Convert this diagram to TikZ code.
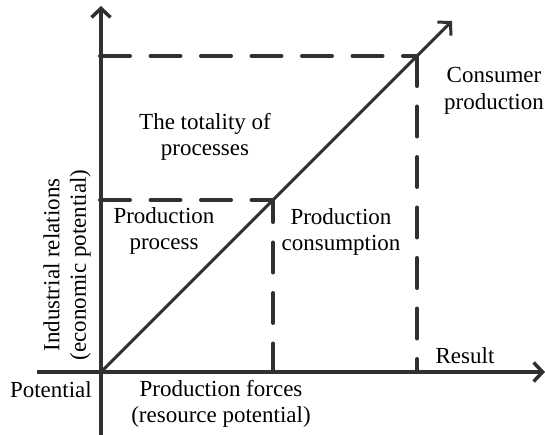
\documentclass[tikz,border=0pt]{standalone}
\usepackage{fontspec}
\setmainfont{Liberation Serif}
\usetikzlibrary{arrows.meta}
\definecolor{ink}{HTML}{303030}
\tikzset{
  axisline/.style={draw=ink,line width=4pt,-{Straight Barb[length=9pt,width=19pt,line width=3.5pt]}},
  plainaxis/.style={draw=ink,line width=4pt},
  diag/.style={draw=ink,line width=3pt,-{Straight Barb[length=9pt,width=19pt,line width=3pt]}},
  dashline/.style={draw=ink,line width=4pt,line cap=round,dash pattern=on 30pt off 20.5pt},
  lbl/.style={font=\fontsize{23}{26.5}\selectfont,text=black,inner sep=0pt,align=center}
}
\begin{document}
\begin{tikzpicture}[x=1pt,y=-1pt]
\useasboundingbox (0,0) rectangle (545,435);
% key points
\coordinate (O) at (101,372);
\coordinate (ytop) at (101,6);
\coordinate (ybot) at (101,435);
\coordinate (xleft) at (37,372);
\coordinate (xright) at (545,372);
\coordinate (c1) at (273,200);
\coordinate (c2) at (417,56);
\coordinate (tip) at (452,21);
\coordinate (h1) at (100,200);
\coordinate (h2) at (100,56);
\coordinate (b1) at (273,372);
\coordinate (b2) at (417,372);
% dashed guides
\draw[dashline] (h2) -- (c2);
\draw[dashline] (c2) -- (b2);
\draw[dashline] (h1) -- (c1);
\draw[dashline,dash phase=8pt] (c1) -- (b1);
% axes
\draw[plainaxis] (xleft) -- (O);
\draw[axisline] (O) -- (xright);
\draw[plainaxis] (ybot) -- (O);
\draw[axisline] (O) -- (ytop);
% diagonal
\draw[diag] (O) -- (tip);
% labels
\node[lbl] (tot) at (205,137) {The totality of\\processes};
\node[lbl] (pp) at (164,231) {Production\\process};
\node[lbl] (pc) at (341,232) {Production\\consumption};
\node[lbl] (cp) at (494,91) {Consumer\\production};
\node[lbl,anchor=base] (res) at (465,363) {Result};
\node[lbl,anchor=base east] (pot) at (92,397) {Potential};
\node[lbl] (pf) at (221,404) {Production forces\\(resource potential)};
\node[lbl,rotate=90] (ir) at (67,265) {Industrial relations\\(economic potential)};
\end{tikzpicture}
\end{document}
